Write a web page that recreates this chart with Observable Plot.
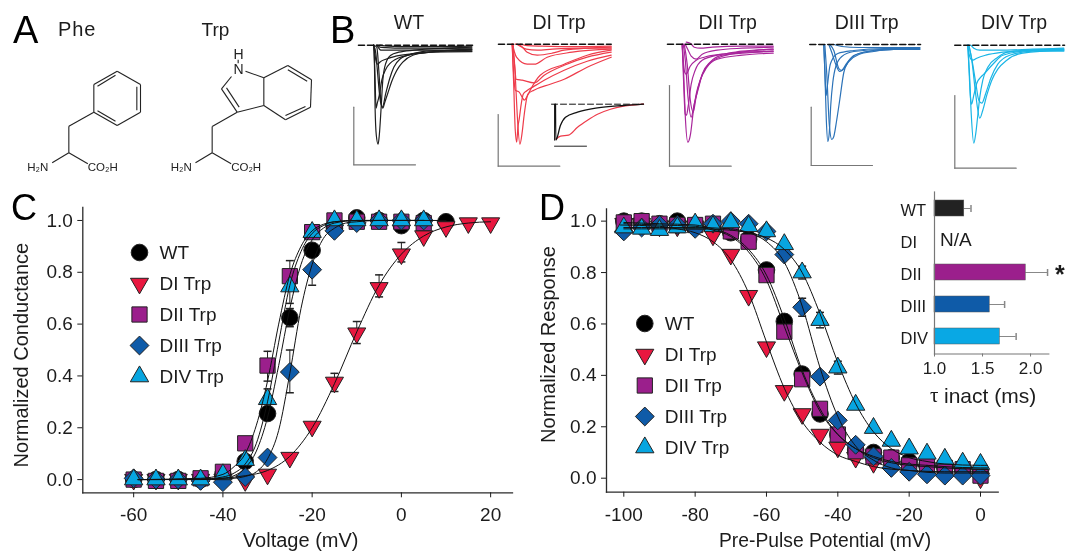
<!DOCTYPE html>
<html><head><meta charset="utf-8">
<script src="https://cdn.jsdelivr.net/npm/d3@7"></script>
<script src="https://cdn.jsdelivr.net/npm/@observablehq/plot@0.6"></script>
<style>
html,body{margin:0;background:#fff}
#fig{position:relative;width:1069px;height:552px;overflow:hidden;font-family:"Liberation Sans",Arial,sans-serif;color:#1c1c1c;filter:blur(0.4px)}
#fig svg{position:absolute;left:0;top:0}
.note{position:absolute;line-height:1;white-space:pre}
</style></head><body><div id="fig"></div>
<script>
// ---------- Panel C: conductance-voltage ----------
const cVolt = [-60,-55,-50,-45,-40,-35,-30,-25,-20,-15,-10,-5,0,5,10,15,20];
const cWT   = [0,0,0,0,0.02,0.07,0.255,0.625,0.885,0.97,1.01,1.0,0.98,1.0,0.995];
const cDI   = [0,0,0,0,0,-0.005,0.02,0.085,0.205,0.375,0.565,0.74,0.87,0.94,0.975,0.99,0.99];
const cDII  = [0,-0.005,-0.005,0.005,0.03,0.14,0.44,0.785,0.955,1.0,0.995,0.995,0.995,0.99];
const cDIII = [0.005,0,0,-0.005,-0.01,0.01,0.085,0.415,0.81,0.96,0.99,1.0,1.0,1.0];
const cDIV  = [0,0,0,0,0.02,0.075,0.31,0.745,0.955,1.0,1.0,1.0,1.0,1.0];
const cErrWT   = [[-25,0.59,0.66]];
const cErrDI   = [[-15,0.34,0.41],[-10,0.525,0.61],[-5,0.705,0.79],[0,0.84,0.915]];
const cErrDII  = [[-30,0.38,0.495],[-25,0.73,0.845]];
const cErrDIII = [[-25,0.335,0.5],[-20,0.75,0.87]];
const cErrDIV  = [[-30,0.28,0.35],[-25,0.68,0.8]];
const cFitWT   = [[-59,0],[-45,0.001],[-40,0.005],[-37.5,0.015],[-35,0.045],[-32.5,0.11],[-30,0.24],[-27.5,0.44],[-25,0.66],[-22.5,0.83],[-20,0.925],[-17.5,0.97],[-15,0.99],[-10,1],[10,1]];
const cFitDI   = [[-59,0],[-45,0.001],[-40,0.005],[-35,0.015],[-30,0.035],[-25,0.09],[-20,0.2],[-15,0.37],[-10,0.57],[-5,0.75],[0,0.87],[5,0.94],[10,0.975],[15,0.99],[20,0.995]];
const cFitDII  = [[-59,0],[-45,0.005],[-40,0.02],[-37.5,0.05],[-35,0.1],[-32.5,0.21],[-30,0.38],[-27.5,0.6],[-25,0.79],[-22.5,0.9],[-20,0.96],[-17.5,0.985],[-15,0.995],[-10,1],[5,1]];
const cFitDIII = [[-59,0],[-45,0],[-40,0.002],[-37.5,0.005],[-35,0.012],[-32.5,0.03],[-30,0.08],[-27.5,0.19],[-25,0.41],[-22.5,0.66],[-20,0.83],[-17.5,0.93],[-15,0.97],[-12.5,0.99],[-10,0.995],[-5,1],[5,1]];
const cFitDIV  = [[-59,0],[-45,0.002],[-40,0.01],[-37.5,0.025],[-35,0.06],[-32.5,0.14],[-30,0.3],[-27.5,0.53],[-25,0.75],[-22.5,0.88],[-20,0.95],[-17.5,0.98],[-15,0.995],[-10,1],[5,1]];

// ---------- Panel D: steady-state inactivation ----------
const dVolt = [-100,-95,-90,-85,-80,-75,-70,-65,-60,-55,-50,-45,-40,-35,-30,-25,-20,-15,-10,-5,0];
const dWT   = [1.0,1.0,0.99,1.0,0.985,0.975,0.955,0.93,0.81,0.61,0.405,0.25,0.17,0.11,0.1,0.08,0.065,0.05,0.04,0.035,0.03];
const dDI   = [0.99,0.99,0.98,0.98,0.98,0.945,0.87,0.71,0.51,0.34,0.25,0.17,0.12,0.08,0.06,0.045,0.035,0.03,0.03,0.025,0.0];
const dDII  = [0.995,1.0,0.99,0.985,0.985,0.99,0.96,0.92,0.79,0.57,0.385,0.27,0.17,0.105,0.085,0.08,0.05,0.05,0.04,0.035,0.01];
const dDIII = [0.96,0.975,0.985,0.985,0.97,0.99,1.0,0.99,0.96,0.87,0.665,0.395,0.225,0.13,0.085,0.04,0.025,0.015,0.01,0.01,0.01];
const dDIV  = [0.975,0.97,0.965,0.975,0.99,0.98,0.995,0.98,0.96,0.91,0.8,0.615,0.43,0.285,0.195,0.145,0.115,0.095,0.075,0.06,0.055];
const dErrDIII = [[-50,0.63,0.7],[-45,0.375,0.415]];
const dErrDIV  = [[-50,0.775,0.825],[-45,0.585,0.645],[-40,0.405,0.455]];
const dFitWT   = [[-100,0.995],[-90,0.99],[-80,0.985],[-75,0.97],[-70,0.945],[-65,0.89],[-60,0.79],[-55,0.62],[-50,0.42],[-45,0.27],[-40,0.17],[-35,0.115],[-30,0.08],[-25,0.06],[-20,0.05],[-15,0.045],[-10,0.04],[0,0.035],[2,0.035]];
const dFitDI   = [[-101,0.985],[-90,0.98],[-85,0.97],[-80,0.955],[-75,0.92],[-70,0.85],[-65,0.72],[-60,0.53],[-55,0.35],[-50,0.22],[-45,0.14],[-40,0.09],[-35,0.065],[-30,0.045],[-25,0.035],[-20,0.03],[-10,0.025],[0,0.025],[2,0.025]];
const dFitDII  = [[-100,0.99],[-90,0.985],[-80,0.98],[-75,0.965],[-70,0.94],[-65,0.88],[-60,0.77],[-55,0.59],[-50,0.41],[-45,0.26],[-40,0.17],[-35,0.115],[-30,0.085],[-25,0.065],[-20,0.055],[-15,0.05],[-10,0.045],[0,0.04],[2,0.04]];
const dFitDIII = [[-100,0.975],[-90,0.975],[-80,0.975],[-70,0.97],[-65,0.955],[-60,0.92],[-55,0.84],[-50,0.67],[-45,0.43],[-40,0.24],[-35,0.125],[-30,0.07],[-25,0.04],[-20,0.03],[-10,0.02],[0,0.02],[2,0.02]];
const dFitDIV  = [[-100,0.97],[-90,0.97],[-80,0.97],[-70,0.965],[-65,0.955],[-60,0.935],[-55,0.89],[-50,0.8],[-45,0.64],[-40,0.45],[-35,0.29],[-30,0.18],[-25,0.115],[-20,0.08],[-15,0.065],[-10,0.055],[0,0.05],[2,0.05]];

// ---------- Inset: tau inact ----------
const tauNames = ["WT","DI","DII","DIII","DIV"];
const tauValue = [1.31,null,1.95,1.575,1.68];
const tauError = [1.38,null,2.177,1.73,1.85];

// ---------- Panel B: current traces, [time, depth below baseline] ----------
const wtTraces = [
 [[0,0],[0.6,15],[1.3,63],[2.5,90],[4.3,99],[5.5,90],[7.3,63],[9,35],[12,18],[17,10],[25,7],[40,5],[60,3.5],[98,3]],
 [[0,0],[1,25],[2.3,63],[3.5,58],[5.5,50],[8,35],[12,24],[22,14],[39,9],[56,7],[98,5]],
 [[0,0],[3,2],[5,25],[7,55],[9,63],[11,57],[14,48],[18,36],[21,29],[25,22],[29,17],[39,10],[56,7],[98,4]],
 [[0,0],[2,8],[4,30],[6,52],[8.5,62],[12,48],[16,33],[20,22],[26,14],[39,8.5],[60,5.5],[98,6]],
 [[0,0],[1,8],[2,15],[3,18.5],[4,19],[6,17],[12,14],[22,11],[39,8.5],[56,7],[98,6.5]],
 [[3,0],[5,3],[7,5],[10,5],[20,5],[40,5],[60,5],[98,4.5]],
 [[4,0],[6,2],[12,2.5],[30,3],[60,3],[98,2]],
 [[6,0],[14,1],[40,1.5],[98,1]]
];
const diTraces = [
 [[0,0],[1.5,40],[3,85],[4.5,98],[5.7,83],[7,75],[9,60],[11,50],[14,47],[22,42],[32,36],[52,26],[75,17],[99,11]],
 [[1,0],[3,30],[5,70],[7.7,100],[10,88],[11.7,73],[15.7,50],[21.7,46],[38,40],[52,35],[75,23],[99,13]],
 [[0,0],[1.5,30],[3,46],[7,48],[10,53],[12,56],[15,52],[18,46],[28,31],[52,20],[75,11],[99,6]],
 [[0,0],[2.3,20],[4,35],[10,36],[22,38.7],[32,31],[52,21],[75,13],[99,8]],
 [[0,0],[2,7],[4.3,13],[15,20],[22,20],[35,13],[60,8],[99,5]],
 [[3,0],[8,1],[15,8],[25,11],[40,9],[52,6],[99,3]],
 [[5,0],[8,2],[14,5],[25,6],[40,5],[70,4],[99,4]],
 [[8,0],[15,1.5],[30,2],[60,2.5],[99,2]]
];
const diiTraces = [
 [[0,0],[1.5,30],[3,70],[5.7,98],[7.5,94],[8.3,90],[11,68],[14,50],[18,36],[24,24],[35,15],[60,11],[91,9]],
 [[0,0],[1.5,40],[3,70],[4.3,71],[6,62],[9,40],[13,26],[20,16],[35,11],[60,8],[91,7]],
 [[1,0],[3,15],[6,55],[9,73],[12,60],[16,45],[20,30],[28,18],[40,11],[60,9],[91,7]],
 [[2,0],[5,20],[8,55],[11,68],[14,52],[18,36],[24,23],[35,14],[60,8],[91,5]],
 [[0,0],[1,15],[2.5,28],[4,30],[8,22],[14,16],[22,13],[40,10],[60,7],[91,5]],
 [[3,0],[6,6],[9,12],[14,15],[20,10],[35,6],[60,4],[91,3]],
 [[4,-2],[8,-1],[12,3],[18,4],[30,3],[60,2],[91,2]]
];
const diiiTraces = [
 [[0,0],[1,25],[2.5,75],[4,97],[5.5,88],[7,60],[9,38],[12,22],[18,12],[30,7],[60,5],[96,5]],
 [[1,0],[3,30],[5.5,80],[8,95],[10,92],[13,75],[16,55],[20,28],[24,18],[35,9],[60,5],[96,4]],
 [[0,0],[1,25],[2.3,51],[3.5,42],[6,22],[8,16],[14,9],[30,6],[60,4],[96,4]],
 [[5,0],[8,8],[12,20],[16,27],[20,24],[25,17],[35,10],[50,7],[70,5],[96,5]],
 [[6,0],[10,6],[15,24],[18,26],[22,20],[30,11],[45,7],[70,5],[96,3]],
 [[10,0],[18,2],[35,3],[70,3],[96,3]]
];
const divTraces = [
 [[0,0],[1.5,25],[3.5,70],[6,98],[8,88],[10,70],[12,52],[15,35],[20,22],[30,12],[40,7],[65,5],[96,5]],
 [[0,0],[1,20],[2.5,50],[3.7,59],[6,50],[9,38],[13,32],[16,29],[26,18],[35,10],[65,5],[96,4]],
 [[1,0],[4,15],[8,50],[12,73],[15,65],[19,50],[24,35],[30,24],[39,15],[55,8],[96,5]],
 [[1,0],[4,14],[8,38],[11,55],[14,58],[18,48],[23,33],[30,19],[42,10],[65,6],[96,6]],
 [[0,0],[1,7],[3,14],[5,15],[9,13],[18,10],[35,7],[65,5],[96,4]],
 [[3,0],[6,3],[12,5],[30,5],[65,4],[96,3]]
];
const insetBlack = [[0,0],[0.3,36],[5,21],[10,13],[22,8],[42,3.7],[68,1.3],[88,0]];
const insetRed   = [[0.3,35],[5,32],[13,31],[22,23],[32,16],[42,10],[55,5],[68,2],[88,0]];

// ---------- Panel A: molecules, bond ends [x1,y1,x2,y2] ----------
const pheBonds = [[350,212,420,252],[420,252,420,335],[420,335,350,375],[350,375,280,335],[280,335,280,252],[280,252,350,212],
 [345,224,291,257],[409,259,409,329],[345,362,291,331],[280,335,205,377],[205,377,205,457],[205,457,155,487],[205,457,262,490]];
const trpBonds = [[790,232,862,195],[862,195,933,238],[933,238,930,320],[930,320,855,358],[855,358,790,315],[790,315,790,232],
 [862,208,920,242],[855,345,915,318],[790,232,735,212],[693,228,663,265],[663,265,710,335],[678,262,716,320],[710,335,790,315],
 [710,335,635,378],[635,378,635,457],[635,457,585,487],[635,457,692,490],[713,178,713,188]];
const atomLabels = [["H₂N",112,500],["CO₂H",307,500],["H₂N",542,500],["CO₂H",737,500]];
const ringLabels = [["H",714,162],["N",714,207]];

// ---------- styles ----------
const invTriangle = {draw(c,s){const y=Math.sqrt(s/5.196);c.moveTo(0,2*y);c.lineTo(-1.732*y,-y);c.lineTo(1.732*y,-y);c.closePath();}};
const capSymbol = {draw(c){c.moveTo(-4,0);c.lineTo(4,0);}};
const legendNames = ["WT","DI Trp","DII Trp","DIII Trp","DIV Trp"];
const markFill = ["#000000","#e8173f","#9b1f8c","#0f5ba8","#07a5e0"];
const markSym  = ["circle",invTriangle,"square","diamond2","triangle"];
const markR    = [8.3,6.7,8.6,8.5,6.8];
const traceCol = ["#1e1e1e","#ee3b4a","#a8259b","#2b72b8","#19b5e6"];
const barCol   = ["#222222",null,"#9b1f8c","#0f5ba8","#09a8e4"];

const fig = document.getElementById("fig");
const W=1069,H=552;
const add = p => fig.appendChild(p);
const page = o => Plot.plot({width:W,height:H,style:{background:"transparent",fontFamily:"'Liberation Sans',Arial,sans-serif",color:"#1c1c1c",overflow:"visible"},...o});
const note = (t,x,y,size,anchor="start",extra="") => {
  const d=document.createElement("div");d.className="note";d.textContent=t;
  const tx=anchor==="middle"?"translateX(-50%)":"none";
  d.style.cssText=`left:${x}px;top:${y-0.8465*size}px;font-size:${size}px;transform:${tx};${extra}`;
  fig.appendChild(d);
};

function rows(x,ys){return ys.map((y,i)=>({x:x[i],y}));}

function curvePanel(o){
  const marks=[Plot.frame({anchor:"left",stroke:"#2a2a2a",strokeWidth:1.3}),Plot.frame({anchor:"bottom",stroke:"#2a2a2a",strokeWidth:1.3}),
    Plot.axisX({ticks:o.xticks,tickFormat:d=>String(d),tickSize:5,tickPadding:10,fontSize:19,label:null}),
    Plot.axisY({ticks:[0,.2,.4,.6,.8,1],tickFormat:d=>d.toFixed(1),tickSize:5,tickPadding:5,fontSize:19,label:null}),
    Plot.text([o.xlabel],{text:d=>d,frameAnchor:"bottom",dx:o.xdx,dy:o.xdy,fontSize:o.xsize,lineAnchor:"middle"}),
    Plot.text([o.ylabel],{text:d=>d,frameAnchor:"left",textAnchor:"middle",rotate:-90,dx:o.ydx,dy:o.ydy,fontSize:20})];
  o.errs.forEach(e=>{
    marks.push(Plot.ruleX(e,{x:d=>d[0],y1:d=>d[1],y2:d=>d[2],stroke:"#222",strokeWidth:1}));
    marks.push(Plot.dot(e,{x:d=>d[0],y:d=>d[1],symbol:capSymbol,stroke:"#222",r:4}));
    marks.push(Plot.dot(e,{x:d=>d[0],y:d=>d[2],symbol:capSymbol,stroke:"#222",r:4}));
  });
  o.series.forEach((s,i)=>marks.push(Plot.dot(rows(o.volt,s),{x:"x",y:"y",symbol:markSym[i],r:markR[i],fill:markFill[i],stroke:"#222",strokeWidth:1})));
  o.fits.forEach(f=>marks.push(Plot.line(f,{x:d=>d[0],y:d=>d[1],curve:"monotone-x",stroke:"#111",strokeWidth:1})));
  add(page({marginLeft:o.l,marginRight:W-o.r,marginTop:o.t,marginBottom:H-o.b,
    x:{domain:o.xd},y:{domain:o.yd},marks}));
}
curvePanel({l:82.3,r:512,t:207,b:492.3,xd:[-71.4,24.9],yd:[-0.051,1.05],xticks:[-60,-40,-20,0,20],volt:cVolt,
  series:[cWT,cDI,cDII,cDIII,cDIV],errs:[cErrWT,cErrDI,cErrDII,cErrDIII,cErrDIV],fits:[cFitWT,cFitDI,cFitDII,cFitDIII,cFitDIV],
  xlabel:"Voltage (mV)",ylabel:"Normalized Conductance",xdx:3,xdy:48,xsize:20,ydx:-61,ydy:5});
curvePanel({l:606,r:997.7,t:208.3,b:491.7,xd:[-104.85,4.96],yd:[-0.0545,1.048],xticks:[-100,-80,-60,-40,-20,0],volt:dVolt,
  series:[dWT,dDI,dDII,dDIII,dDIV],errs:[dErrDIII,dErrDIV],fits:[dFitWT,dFitDI,dFitDII,dFitDIII,dFitDIV],
  xlabel:"Pre-Pulse Potential (mV)",ylabel:"Normalized Response",xdx:22.7,xdy:48.5,xsize:19.3,ydx:-58,ydy:-6});

function legend(x,y0,y1){
  const marks=[];
  legendNames.forEach((n,i)=>{
    marks.push(Plot.dot([n],{y:d=>d,frameAnchor:"left",symbol:markSym[i],r:markR[i],fill:markFill[i],stroke:"#222",strokeWidth:1}));
  });
  marks.push(Plot.text(legendNames,{y:d=>d,text:d=>d,frameAnchor:"left",dx:20,textAnchor:"start",fontSize:19}));
  add(page({marginLeft:x,marginRight:0,marginTop:0,marginBottom:0,y:{type:"point",padding:0,domain:legendNames,range:[y0,y1],axis:null},marks}));
}
legend(139,251,377);
legend(644.3,322.7,448);

// inset
const tauRows = tauNames.map((n,i)=>({n,v:tauValue[i],e:tauError[i],c:barCol[i]})).filter(d=>d.v!=null);
add(page({marginLeft:934,marginRight:W-1048.3,marginTop:191.5,marginBottom:H-353.5,
  x:{domain:[1,2.19]},y:{type:"band",domain:tauNames,paddingInner:0.49,paddingOuter:0.245,axis:null},
  marks:[
    Plot.ruleY(tauRows,{x1:d=>d.v,x2:d=>d.e,y:"n",stroke:"#888",strokeWidth:1}),
    Plot.dot(tauRows,{x:"e",y:"n",symbol:{draw(c){c.moveTo(0,-3.5);c.lineTo(0,3.5);}},stroke:"#888",r:3}),
    Plot.barX(tauRows,{x1:()=>1,x2:"v",y:"n",fill:"c",stroke:"#555",strokeWidth:0.5}),
    Plot.frame({anchor:"left",stroke:"#777",strokeWidth:1.2}),Plot.frame({anchor:"bottom",stroke:"#777",strokeWidth:1.2}),
    Plot.axisX({ticks:[1,1.5,2],tickFormat:d=>d.toFixed(1),tickSize:3,tickPadding:5,fontSize:17,stroke:"#777",label:null}),
    Plot.text(tauNames,{y:d=>d,text:d=>d,frameAnchor:"left",dx:-34,dy:2.5,textAnchor:"start",fontSize:16.5})
  ]}));
note("N/A",940,246,19);
note("*",1055,283,25,"start","font-weight:bold");
note("τ",930,403,21,"start","font-family:'Liberation Serif',serif");
note("inact (ms)",944,403,21);

// panel B traces
function tracePanel(traces,col,ox,oy,dash,bar){
  const line=(a)=>Plot.line(a,{x:d=>d[0],y:d=>d[1],stroke:"#777",strokeWidth:1.2});
  const marks=[line([[bar[0],bar[1]],[bar[0],bar[2]]]),line([[bar[0],bar[2]],[bar[3],bar[2]]])];
  traces.forEach(t=>marks.push(Plot.line(t,{x:d=>d[0],y:d=>d[1],curve:"monotone-x",stroke:col,strokeWidth:1.2})));
  marks.push(Plot.line([[dash[0],0],[dash[1],0]],{x:d=>d[0],y:d=>d[1],stroke:"#111",strokeWidth:1.6,strokeDasharray:"6 3"}));
  add(page({margin:0,x:{domain:[0,100],range:[ox,ox+100]},y:{domain:[0,100],range:[oy,oy+100]},axis:null,marks}));
}
tracePanel(wtTraces,traceCol[0],373.3,44.7,[-15.3,98.7],[-20,62,119.6,41.7]);
tracePanel(diTraces,traceCol[1],511.7,43.7,[-13.7,99],[-14,70.3,122,47.6]);
tracePanel(diiTraces,traceCol[2],681.7,43.7,[-14.7,91.3],[-12.7,41.3,122,49]);
tracePanel(diiiTraces,traceCol[3],823.3,44,[-14,96.7],[-12.6,62.7,121,48.7]);
tracePanel(divTraces,traceCol[4],967.3,44.7,[-13,96.7],[-13,50.3,123,48.4]);

// inset of DI
add(page({margin:0,x:{domain:[0,100],range:[555,655]},y:{domain:[0,100],range:[103.7,203.7]},axis:null,marks:[
  Plot.line([[-1,0],[-1,36]],{x:d=>d[0],y:d=>d[1],stroke:"#222",strokeWidth:1}),
  Plot.line([[-1,42],[31,42]],{x:d=>d[0],y:d=>d[1],stroke:"#222",strokeWidth:1}),
  Plot.line([[-4,0],[88,0]],{x:d=>d[0],y:d=>d[1],stroke:"#111",strokeWidth:1,strokeDasharray:"6 3"}),
  Plot.line(insetRed,{x:d=>d[0],y:d=>d[1],curve:"monotone-x",stroke:traceCol[1],strokeWidth:1.2}),
  Plot.line(insetBlack,{x:d=>d[0],y:d=>d[1],curve:"monotone-x",stroke:"#111",strokeWidth:1.3})
]}));

// panel A molecules
const bondMark = b => Plot.link(b,{x1:d=>d[0],y1:d=>d[1],x2:d=>d[2],y2:d=>d[3],stroke:"#222",strokeWidth:1.1});
add(page({margin:0,x:{domain:[0,3207],range:[0,1069]},y:{domain:[0,1656],range:[0,552]},axis:null,marks:[
  bondMark(pheBonds),bondMark(trpBonds),
  Plot.text(atomLabels,{x:d=>d[1],y:d=>d[2],text:d=>d[0],fontSize:11.5,fill:"#222"}),
  Plot.text(ringLabels,{x:d=>d[1],y:d=>d[2],text:d=>d[0],fontSize:14,fill:"#222"})
]}));

// titles and panel letters
note("A",13,43.5,38,"start","color:#000");
note("B",330,43,38,"start","color:#000");
note("C",11,220,36,"start","color:#000");
note("D",539,220,36,"start","color:#000");
note("Phe",58,36,20,"start","letter-spacing:0.9px");
note("Trp",201.5,36,19);
note("WT",409,30,19.5,"middle");
note("DI Trp",559,30,19.5,"middle");
note("DII Trp",727.7,30,19.5,"middle");
note("DIII Trp",866.7,30,19.5,"middle");
note("DIV Trp",1014,30,19.5,"middle");
</script></body></html>
